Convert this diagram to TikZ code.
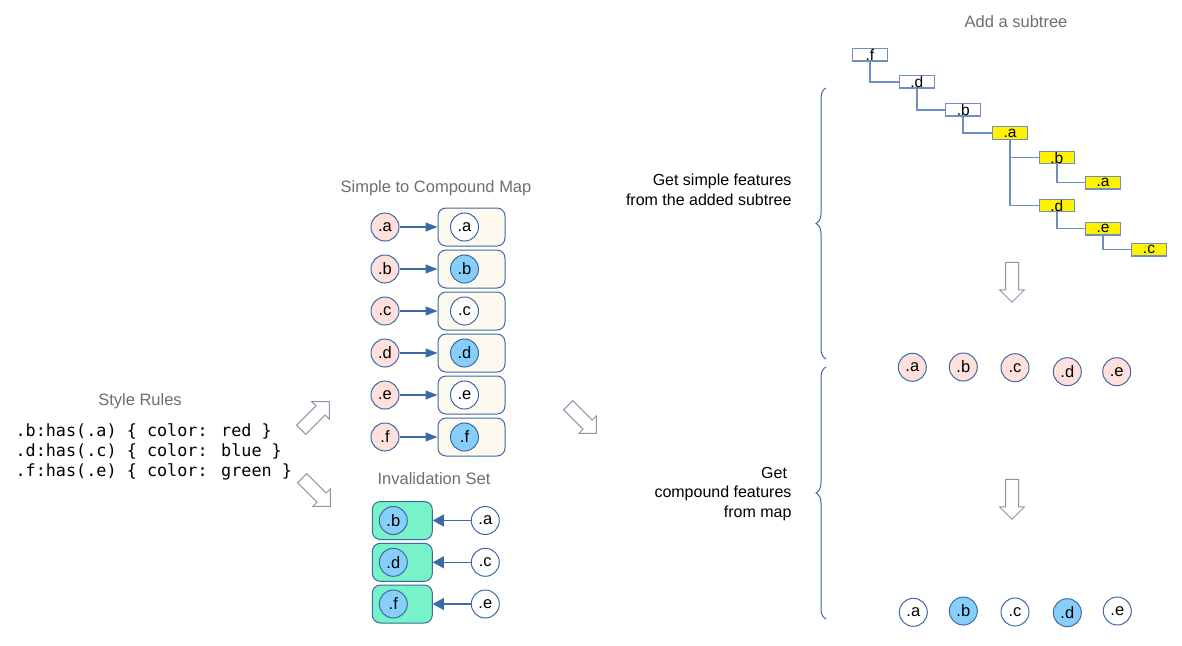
\documentclass[tikz,border=0pt]{standalone}
\usepackage{fontspec}
\setmainfont{Liberation Sans}
\newfontfamily\codefont{DejaVu Sans Mono}
\usetikzlibrary{arrows.meta,shapes.arrows,decorations.pathreplacing}

\definecolor{edgeblue}{HTML}{3C6AA5}
\definecolor{treeblue}{HTML}{6F8FC0}
\definecolor{simplepink}{HTML}{FFE0DC}
\definecolor{compblue}{HTML}{87CEFA}
\definecolor{mapcream}{HTML}{FDF9EE}
\definecolor{invgreen}{HTML}{78F2C8}
\definecolor{titlegray}{HTML}{6E6E6E}
\definecolor{hollowgray}{HTML}{8A98AA}

\begin{document}
\begin{tikzpicture}[x=1pt,y=-1pt,
    feat/.style={circle,draw=edgeblue,line width=1pt,minimum size=28pt,inner sep=0pt,font=\fontsize{16.5}{18}\selectfont},
    simple/.style={feat,fill=simplepink},
    plain/.style={feat,fill=white},
    compound/.style={feat,fill=compblue},
    mapbox/.style={rectangle,rounded corners=8pt,draw=edgeblue,line width=1pt,fill=mapcream,minimum width=67pt,minimum height=38pt},
    invbox/.style={mapbox,fill=invgreen,minimum width=60pt},
    treebox/.style={rectangle,draw=treeblue,line width=1.3pt,fill=white,minimum width=35pt,minimum height=12.5pt,inner sep=0pt,font=\fontsize{15.5}{12}\selectfont},
    added/.style={treebox,fill=yellow},
    treeline/.style={draw=treeblue,line width=1.5pt},
    title/.style={text=titlegray,font=\fontsize{16.5}{18}\selectfont},
    note/.style={align=right,anchor=east,font=\fontsize{16}{19.5}\selectfont},
    hollow/.style={single arrow,draw=hollowgray,line width=1pt,fill=white,minimum height=40pt,inner sep=6pt,single arrow head extend=6pt},
    link/.style={draw=edgeblue,line width=1.2pt,-{Triangle[length=12pt,width=9pt]}},
    invlink/.style={draw=edgeblue,line width=1.2pt,-{Triangle[length=11pt,width=12pt]}},
    bracket/.style={draw=edgeblue,line width=1pt,decorate,decoration={brace,amplitude=10pt}}
  ]

    \useasboundingbox (0,0) rectangle (1182,645);

    % style rules
    \node[title] (rulestitle) at (140,401) {Style Rules};
    \node[anchor=west,align=left,font=\codefont\fontsize{16.8}{20}\selectfont] (rules) at (12,452)
      {.b:has(.a) \{ color: red \}\\.d:has(.c) \{ color: blue \}\\.f:has(.e) \{ color: green \}};

    \node[hollow,rotate=45] (up) at (313,418) {};
    \node[hollow,rotate=-45] (down) at (314,490) {};

    % simple to compound map
    \node[title] (maptitle) at (436,188) {Simple to Compound Map};

    \node[simple] (sa) at (385,227) {.a};
    \node[simple] (sb) at (385,269) {.b};
    \node[simple] (sc) at (385,311) {.c};
    \node[simple] (sd) at (385,353) {.d};
    \node[simple] (se) at (385,395) {.e};
    \node[simple] (sf) at (385,437) {.f};

    \node[mapbox] (ma) at (471.5,227) {};
    \node[mapbox] (mb) at (471.5,269) {};
    \node[mapbox] (mc) at (471.5,311) {};
    \node[mapbox] (md) at (471.5,353) {};
    \node[mapbox] (me) at (471.5,395) {};
    \node[mapbox] (mf) at (471.5,437) {};

    \node[plain] (ca) at (464.5,227) {.a};
    \node[compound] (cb) at (464.5,269) {.b};
    \node[plain] (cc) at (464.5,311) {.c};
    \node[compound] (cd) at (464.5,353) {.d};
    \node[plain] (ce) at (464.5,395) {.e};
    \node[compound] (cf) at (464.5,437) {.f};

    \draw[link] (sa) -- (ma);
    \draw[link] (sb) -- (mb);
    \draw[link] (sc) -- (mc);
    \draw[link] (sd) -- (md);
    \draw[link] (se) -- (me);
    \draw[link] (sf) -- (mf);

    % invalidation set
    \node[title] (invtitle) at (434,479) {Invalidation Set};

    \node[invbox] (ib) at (402.3,520.5) {};
    \node[invbox] (id) at (402.3,562.3) {};
    \node[invbox] (if) at (402.3,604) {};

    \node[compound] (jb) at (393.3,520.5) {.b};
    \node[compound] (jd) at (393.3,562.3) {.d};
    \node[compound] (jf) at (393.3,604) {.f};

    \node[plain] (xa) at (485.3,520.5) {.a};
    \node[plain] (xc) at (485.3,562.3) {.c};
    \node[plain] (xe) at (485.3,604) {.e};

    \draw[invlink] (xa) -- (ib);
    \draw[invlink] (xc) -- (id);
    \draw[invlink] (xe) -- (if);

    \node[hollow,rotate=-45] (across) at (580,417) {};

    % added subtree
    \node[title] (treetitle) at (1016,22) {Add a subtree};

    \node[treebox] (tf) at (869.8,54.7) {.f};
    \node[treebox] (td) at (916.8,81.8) {.d};
    \node[treebox] (tb) at (963.2,109.8) {.b};
    \node[added] (ta) at (1010,133) {.a};
    \node[added] (tab) at (1056.8,157.5) {.b};
    \node[added] (taa) at (1103,182.7) {.a};
    \node[added] (tad) at (1056.8,205.5) {.d};
    \node[added] (tae) at (1103,228.7) {.e};
    \node[added] (tac) at (1149,249.7) {.c};

    \draw[treeline] (tf.south) |- (td.west);
    \draw[treeline] (td.south) |- (tb.west);
    \draw[treeline] (tb.south) |- (ta.west);
    \draw[treeline] (ta.south) |- (tab.west);
    \draw[treeline] (ta.south) |- (tad.west);
    \draw[treeline] (tab.south) |- (taa.west);
    \draw[treeline] (tad.south) |- (tae.west);
    \draw[treeline] (tae.south) |- (tac.west);

    \node[hollow,rotate=-90] (down1) at (1012,279) {};

    \node[simple] (fa) at (912.3,367.3) {.a};
    \node[simple] (fb) at (963.3,367) {.b};
    \node[simple] (fc) at (1015,367.7) {.c};
    \node[simple] (fd) at (1067.3,371.7) {.d};
    \node[simple] (fe) at (1116.7,371.7) {.e};

    \node[hollow,rotate=-90] (down2) at (1012,496) {};

    \node[plain] (ga) at (913.3,612.3) {.a};
    \node[compound] (gb) at (963.3,611) {.b};
    \node[plain] (gc) at (1015,612) {.c};
    \node[compound] (gd) at (1067.3,612.7) {.d};
    \node[plain] (ge) at (1117.3,611) {.e};

    % braces
    \coordinate (b1top) at (826,88);
    \coordinate (b1bot) at (826,359);
    \coordinate (b2top) at (826,367);
    \coordinate (b2bot) at (826,619);
    \draw[bracket] (b1bot) -- (b1top);
    \draw[bracket] (b2bot) -- (b2top);

    \node[note] (simplenote) at (795,190) {Get simple features\\from the added subtree};
    \node[note] (compnote) at (795,494) {Get\kern0.28em\\compound features\\from map};

  \end{tikzpicture}
\end{document}
